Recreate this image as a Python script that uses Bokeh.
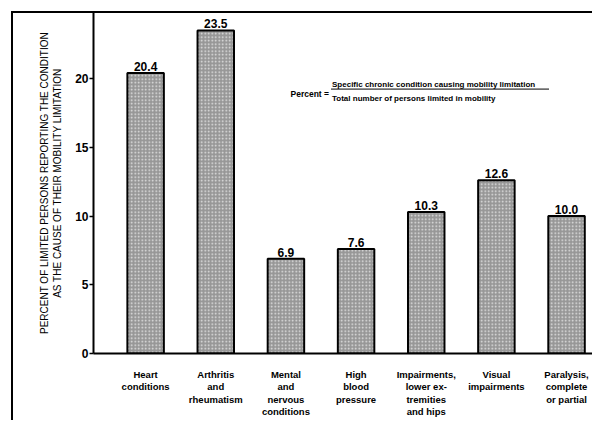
from bokeh.plotting import figure
from bokeh.models import Label, FixedTicker, Range1d, InlineStyleSheet
from bokeh.core.properties import value
from bokeh.embed import file_html
from bokeh.resources import INLINE

categories = ["Heart\nconditions", "Arthritis\nand\nrheumatism", "Mental\nand\nnervous\nconditions",
              "High\nblood\npressure", "Impairments,\nlower ex-\ntremities\nand hips",
              "Visual\nimpairments", "Paralysis,\ncomplete\nor partial"]
values = [20.4, 23.5, 6.9, 7.6, 10.3, 12.6, 10.0]
value_labels = ["20.4", "23.5", "6.9", "7.6", "10.3", "12.6", "10.0"]
y_ticks = [0, 5, 10, 15, 20]
positions = list(range(len(categories)))

FONT = "Liberation Sans"

p = figure(width=592, height=420, output_backend="svg", toolbar_location=None,
           x_range=Range1d(-0.743, 6.37), y_range=Range1d(0, 24.8),
           min_border_left=93, min_border_right=0, min_border_top=12, min_border_bottom=61)
p.outline_line_color = None
p.grid.visible = False
p.background_fill_color = "white"
p.border_fill_color = "white"

p.vbar(x=positions, top=values, width=0.52, bottom=0,
       fill_color="#979797", line_color="black", line_width=2,
       hatch_pattern="dot", hatch_color="white", hatch_scale=3.5, hatch_weight=1.6, hatch_alpha=0.75)

p.text(x=positions, y=values, text=value_labels, text_align="center", text_baseline="bottom",
       y_offset=-2, text_font=value(FONT), text_font_style="bold", text_font_size="12px",
       text_color="black")

# y axis
p.yaxis.ticker = FixedTicker(ticks=y_ticks)
p.yaxis.axis_line_width = 2
p.yaxis.axis_line_color = "black"
p.yaxis.major_tick_out = 4
p.yaxis.major_tick_in = 0
p.yaxis.minor_tick_line_color = None
p.yaxis.major_tick_line_width = 1.5
p.yaxis.major_label_standoff = 1
p.yaxis.major_label_text_font = FONT
p.yaxis.major_label_text_font_style = "bold"
p.yaxis.major_label_text_font_size = "12px"
p.yaxis.major_label_text_color = "black"
p.yaxis.axis_label = "PERCENT OF LIMITED PERSONS REPORTING THE CONDITION\nAS THE CAUSE OF THEIR MOBILITY LIMITATION"
p.yaxis.axis_label_text_font = FONT
p.yaxis.axis_label_text_font_style = "normal"
p.yaxis.axis_label_text_font_size = "10px"
p.yaxis.axis_label_text_color = "black"
p.yaxis.axis_label_text_line_height = 1.2
p.yaxis.axis_label_standoff = 9

# x axis
p.xaxis.ticker = FixedTicker(ticks=positions)
p.xaxis.major_label_overrides = {i: c for i, c in zip(positions, categories)}
p.xaxis.axis_line_width = 2
p.xaxis.axis_line_color = "black"
p.xaxis.major_tick_line_color = None
p.xaxis.minor_tick_line_color = None
p.xaxis.major_label_standoff = 9
p.xaxis.major_label_text_font = FONT
p.xaxis.major_label_text_font_style = "bold"
p.xaxis.major_label_text_font_size = "9.5px"
p.xaxis.major_label_text_color = "black"
p.xaxis.major_label_text_line_height = 1.15

# formula
p.add_layout(Label(x=2.614, y=18.87, text="Percent =", text_align="right", text_baseline="middle",
                   text_font=FONT, text_font_style="bold", text_font_size="8.5px", text_color="black"))
p.add_layout(Label(x=2.657, y=19.6, text="Specific chronic condition causing mobility limitation",
                   text_align="left", text_baseline="middle",
                   text_font=FONT, text_font_style="bold", text_font_size="8px", text_color="black"))
p.add_layout(Label(x=2.657, y=18.52, text="Total number of persons limited in mobility",
                   text_align="left", text_baseline="middle",
                   text_font=FONT, text_font_style="bold", text_font_size="8px", text_color="black"))
p.segment(x0=[2.643], y0=[19.23], x1=[5.75], y1=[19.23], line_color="black", line_width=1)

# outer frame lines of the original page (left and top edge)
p.stylesheets = [InlineStyleSheet(css="""
:host::before { content: ""; position: absolute; left: 11px; top: 11px; width: 2px; height: 409px;
  background: black; z-index: 10; pointer-events: none; }
:host::after { content: ""; position: absolute; left: 11px; top: 11px; height: 2px; width: 581px;
  background: black; z-index: 10; pointer-events: none; }
""")]

open("out.html", "w").write(file_html(p, INLINE))
